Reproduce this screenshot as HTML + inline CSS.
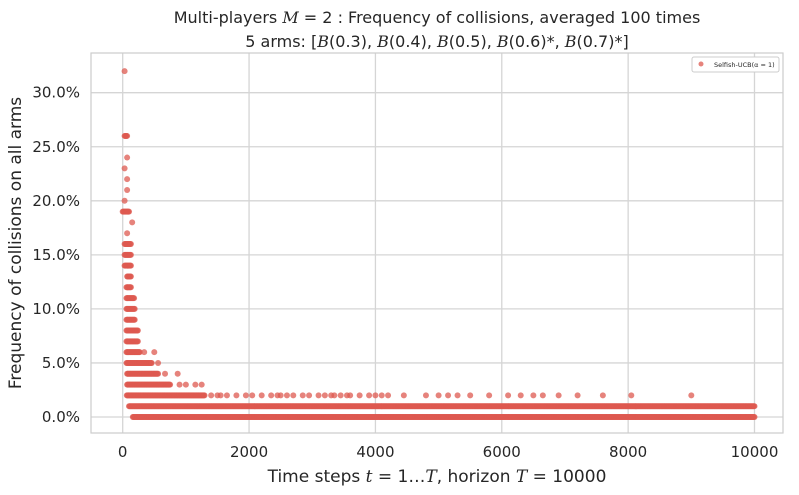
<!DOCTYPE html>
<html><head><meta charset="utf-8"><style>
body{margin:0;background:#fff}
svg{display:block;font-family:"DejaVu Sans","Liberation Sans",sans-serif}
</style></head><body>
<svg id="chart" width="799" height="495">
<text x="437" y="23" text-anchor="middle" font-size="16" fill="#262626">Multi-players <tspan font-family="DejaVu Serif" font-style="italic">M</tspan> = 2 : Frequency of collisions, averaged 100 times</text>
<text x="437" y="47" text-anchor="middle" font-size="16" fill="#262626">5 arms: [<tspan font-family="DejaVu Serif" font-style="italic">B</tspan>(0.3), <tspan font-family="DejaVu Serif" font-style="italic">B</tspan>(0.4), <tspan font-family="DejaVu Serif" font-style="italic">B</tspan>(0.5), <tspan font-family="DejaVu Serif" font-style="italic">B</tspan>(0.6)*, <tspan font-family="DejaVu Serif" font-style="italic">B</tspan>(0.7)*]</text>
<g id="grid"></g><g id="marks"></g><g id="axes"></g>
<rect x="91" y="53" width="692" height="380" fill="none" stroke="#cccccc" stroke-width="1.2"/>
<g>
<rect x="692" y="57" width="87" height="15" fill="#fff" stroke="#ccc" rx="2"/>
<circle cx="701" cy="64" r="2.5" fill="#dd5a50" opacity="0.75"/>
<text x="714" y="67" font-size="6.5" fill="#262626">Selfish-UCB(α = 1)</text>
</g>
<text x="437" y="482" text-anchor="middle" font-size="17" fill="#262626">Time steps <tspan font-family="DejaVu Serif" font-style="italic">t</tspan> = 1…<tspan font-family="DejaVu Serif" font-style="italic">T</tspan>, horizon <tspan font-family="DejaVu Serif" font-style="italic">T</tspan> = 10000</text>
<text transform="translate(21,243) rotate(-90)" text-anchor="middle" font-size="17" fill="#262626">Frequency of collisions on all arms</text>
</svg>
<script>
const xTicks=[0,2000,4000,6000,8000,10000];
const yTicks=[0,5,10,15,20,25,30];
// dense runs per collision level (%): [level, startT, endT]
const denseLevels=[0,1,2,3,4,5,6,7,8,9,10,11,12,13,14,15,16,19,26];
const denseStarts=[160,100,65,70,70,60,60,60,60,60,60,60,60,70,30,30,30,0,30];
const denseEnds=[10000,10000,1300,750,560,463,275,240,240,195,190,180,135,130,130,130,130,100,70];
// isolated points: levels and times
const sparseLevels=[3,3,3,3,4,4,5,6,6,17,18,20,21,22,23,24,32,2,2,2,2,2,2,2,2,2,2,2,2,2,2,2,2,2,2,2,2,2,2,2,2,2,2,2,2,2,2,2,2,2,2,2,2,2,2,2,2,2,2,2];
const sparseTimes=[900,1000,1150,1250,670,870,560,340,500,70,150,30,70,70,30,70,30,1400,1500,1650,1800,1950,2050,2200,2350,2500,2600,2700,2850,2950,3100,3300,3450,3600,3750,3900,4000,4200,4450,4800,5000,5150,5300,5500,5800,6100,6300,6500,6650,7200,7600,8050,9000,3350,1550,2450,3200,3550,4100,6900];
const X=t=>122.7+t*(754.5-122.7)/10000;
const Y=v=>417-v*(417-92.7)/30;
const NS="http://www.w3.org/2000/svg";
const grid=document.getElementById('grid'),marks=document.getElementById('marks'),axes=document.getElementById('axes');
function mk(tag,at,p){const e=document.createElementNS(NS,tag);for(const k in at)e.setAttribute(k,at[k]);p.appendChild(e);return e;}
xTicks.forEach(t=>{
 const l=mk('line',{x1:X(t),x2:X(t),y1:53,y2:433,stroke:'#d5d5d5','stroke-width':1.3},grid);
 
 
 const s=mk('text',{x:X(t),y:457,'text-anchor':'middle','font-size':15,fill:'#262626'},axes);
 s.textContent=t;
 
 
});
yTicks.forEach(v=>{
 const l=mk('line',{x1:91,x2:783,y1:Y(v),y2:Y(v),stroke:'#d5d5d5','stroke-width':1.3},grid);
 
 
 const s=mk('text',{x:80,y:Y(v)+5,'text-anchor':'end','font-size':15,fill:'#262626'},axes);
 s.textContent=v.toFixed(1)+'%';
 
 
});
function pt(t,v){
 const c=mk('circle',{cx:X(t),cy:Y(v),r:3,fill:'#dd5a50','fill-opacity':0.75},marks);
 
 
}
denseLevels.forEach((v,i)=>{for(let t=denseStarts[i];t<=denseEnds[i];t+=10)pt(t,v);});
sparseLevels.forEach((v,i)=>pt(sparseTimes[i],v));
</script>
</body></html>
